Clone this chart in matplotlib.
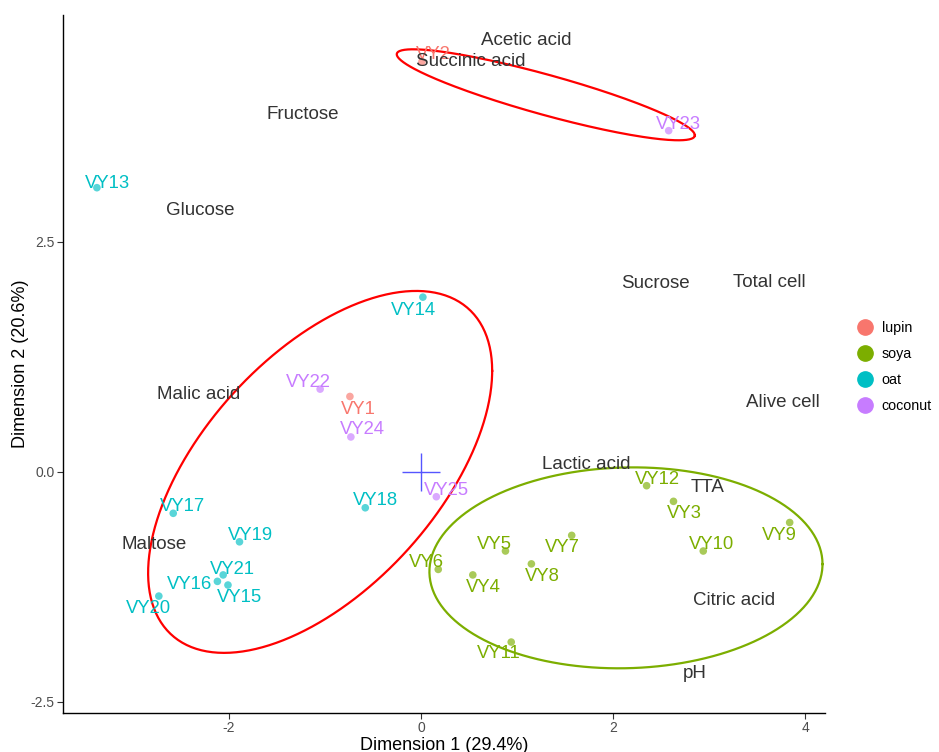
import numpy as np
import matplotlib
matplotlib.use("Agg")
import matplotlib.pyplot as plt
import matplotlib.transforms as mtransforms
from matplotlib.lines import Line2D

plt.rcParams['font.family'] = ['Liberation Sans', 'DejaVu Sans']
plt.rcParams['axes.unicode_minus'] = False

# samples (individuals) on dimensions 1 and 2
samples = ['VY%d' % i for i in range(1, 26)]
groups = ['lupin', 'lupin'] + ['soya'] * 10 + ['oat'] * 9 + ['coconut'] * 4
dim1 = [-0.74, 0.01, 2.63, 0.54, 0.88, 0.18, 1.57, 1.15, 3.84, 2.94, 0.94, 2.35,
        -3.375, 0.02, -2.01, -2.12, -2.58, -0.58, -1.89, -2.73, -2.06,
        -1.05, 2.58, -0.73, 0.16]
dim2 = [0.82, 4.46, -0.32, -1.12, -0.86, -1.06, -0.69, -1.00, -0.55, -0.86, -1.85, -0.15,
        3.09, 1.90, -1.23, -1.19, -0.45, -0.39, -0.76, -1.35, -1.12,
        0.90, 3.71, 0.38, -0.27]
# repelled label positions
lab1 = [-0.65, 0.13, 2.74, 0.65, 0.77, 0.06, 1.47, 1.26, 3.73, 3.03, 0.81, 2.46,
        -3.26, -0.08, -1.89, -2.41, -2.48, -0.47, -1.78, -2.84, -1.96,
        -1.17, 2.68, -0.61, 0.27]
lab2 = [0.71, 4.57, -0.42, -1.23, -0.76, -0.96, -0.79, -1.11, -0.66, -0.76, -1.95, -0.05,
        3.16, 1.78, -1.34, -1.20, -0.35, -0.28, -0.66, -1.46, -1.03,
        1.00, 3.80, 0.49, -0.17]

# variables
variables = ['Acetic acid', 'Succinic acid', 'Fructose', 'Glucose', 'Sucrose', 'Total cell',
             'Alive cell', 'Malic acid', 'Maltose', 'Lactic acid', 'TTA', 'Citric acid', 'pH']
var1 = [1.10, 0.52, -1.23, -2.30, 2.44, 3.63, 3.77, -2.32, -2.78, 1.72, 2.98, 3.26, 2.85]
var2 = [4.72, 4.49, 3.91, 2.87, 2.08, 2.09, 0.78, 0.87, -0.76, 0.11, -0.14, -1.37, -2.16]

# cluster ellipses: centre and covariance (dim1, dim2)
ell_centers = [(1.30, 4.10), (-1.05, 0.0), (2.135, -1.043)]
ell_covs = [[[2.409, -0.683], [-0.683, 0.2446]],
            [[3.210, 1.968], [1.968, 3.871]],
            [[4.190, 0.084], [0.084, 1.193]]]
ell_colors = ['#FF0000', '#FF0000', '#7CAE00']

group_names = ['lupin', 'soya', 'oat', 'coconut']
group_colors = {'lupin': '#F8766D', 'soya': '#7CAE00', 'oat': '#00BFC4', 'coconut': '#C77CFF'}

fig = plt.figure(figsize=(9.39, 7.52), dpi=100)
ax = fig.add_axes([0.067, 0.052, 0.8116, 0.928])

for c, cov, col in zip(ell_centers, ell_covs, ell_colors):
    L = np.linalg.cholesky(np.array(cov))
    t = np.linspace(0, 2 * np.pi, 300)
    pts = L @ np.vstack([np.cos(t), np.sin(t)])
    ax.plot(c[0] + pts[0], c[1] + pts[1], color=col, lw=1.6, zorder=2)

for x, y, g in zip(dim1, dim2, groups):
    ax.scatter(x, y, s=30, color=group_colors[g], alpha=0.65, edgecolors='none', zorder=3)

# nudge text down a little so the glyphs sit where ggplot puts them
tr = ax.transData + mtransforms.ScaledTranslation(0, -2.5 / 100, fig.dpi_scale_trans)

for name, x, y, g in zip(samples, lab1, lab2, groups):
    ax.text(x, y, name, color=group_colors[g], fontsize=13.3, ha='center', va='center',
            zorder=4, transform=tr)

for name, x, y in zip(variables, var1, var2):
    ax.text(x, y, name, color='#333333', fontsize=13.5, ha='center', va='center',
            zorder=5, transform=tr)

# centroid cross
ax.plot([0], [0], marker='+', ms=27, mew=1, color='#5555FF', zorder=3)

ax.set_xlim(-3.729, 4.208)
ax.set_ylim(-2.62, 4.967)
ax.set_xticks([-2, 0, 2, 4])
ax.set_yticks([-2.5, 0.0, 2.5])
ax.set_yticklabels(['-2.5', '0.0', '2.5'])
ax.tick_params(colors='#333333', labelcolor='#4D4D4D', labelsize=10, length=4, width=0.8, pad=2)
for s in ['top', 'right']:
    ax.spines[s].set_visible(False)
for s in ['left', 'bottom']:
    ax.spines[s].set_linewidth(1.0)
ax.set_xlabel('Dimension 1 (29.4%)', fontsize=13, labelpad=1)
ax.set_ylabel('Dimension 2 (20.6%)', fontsize=13, labelpad=1)

handles = [Line2D([], [], marker='o', linestyle='', ms=11, color=group_colors[g]) for g in group_names]
fig.legend(handles, group_names, loc='center left', bbox_to_anchor=(0.898, 0.512),
           frameon=False, fontsize=10.3, handletextpad=0.6, labelspacing=0.85, handlelength=1.2)

fig.savefig('out.png', dpi=100)
